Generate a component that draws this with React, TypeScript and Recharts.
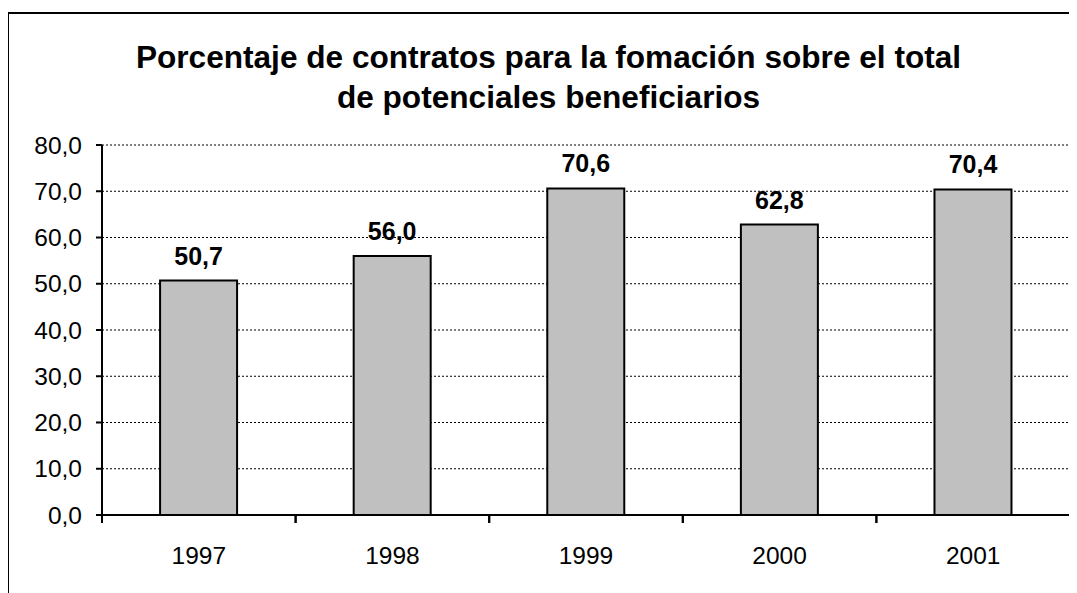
import React from "react";
import { BarChart, Bar, XAxis, YAxis, CartesianGrid, LabelList } from "recharts";

const years = ["1997", "1998", "1999", "2000", "2001"];
const values = [50.7, 56.0, 70.6, 62.8, 70.4];
const yTicks = [0, 10, 20, 30, 40, 50, 60, 70, 80];
const titleLines = [
  "Porcentaje de contratos para la fomación sobre el total",
  "de potenciales beneficiarios",
];

const data = years.map((y, i) => ({ year: y, value: values[i] }));
const FONT = "'Liberation Sans', Arial, sans-serif";
const fmt = (v: number) => v.toFixed(1).replace(".", ",");

const XTick = (props: any) => {
  const { x, y, payload, width, visibleTicksCount } = props;
  const half =
    payload && payload.offset ? payload.offset : width / (visibleTicksCount || 5) / 2;
  return (
    <g>
      <line x1={x - half} x2={x - half} y1={y} y2={y + 8} stroke="#000" strokeWidth={2} />
      <line x1={x + half} x2={x + half} y1={y} y2={y + 8} stroke="#000" strokeWidth={2} />
      <text x={x} y={y} dy={49} textAnchor="middle" fill="#000" fontSize={24.5} fontFamily={FONT}>
        {payload.value}
      </text>
    </g>
  );
};

export default function App() {
  return (
    <div style={{ position: "relative", width: 1069, height: 585, overflow: "hidden", background: "#fff" }}>
      <div
        style={{
          position: "absolute",
          left: -1,
          top: 4,
          width: 1200,
          height: 700,
          border: "2px solid #000",
          boxSizing: "border-box",
        }}
      />
      <div
        style={{
          position: "absolute",
          left: 0,
          top: 29,
          width: 1081,
          textAlign: "center",
          fontFamily: FONT,
          fontWeight: "bold",
          fontSize: 31.6,
          lineHeight: "40px",
          color: "#000",
          whiteSpace: "nowrap",
        }}
      >
        {titleLines.map((t, i) => (
          <div key={i}>{t}</div>
        ))}
      </div>
      <div style={{ position: "absolute", left: 0, top: 0 }}>
        <BarChart
          width={1069}
          height={585}
          data={data}
          margin={{ top: 137, right: 7, bottom: 28, left: 0 }}
          barCategoryGap="30%"
        >
          <CartesianGrid vertical={false} stroke="#000" strokeDasharray="2 2" strokeWidth={1} />
          <XAxis
            dataKey="year"
            height={50}
            axisLine={{ stroke: "#000", strokeWidth: 2 }}
            tickLine={false}
            tickSize={0}
            tickMargin={0}
            tick={<XTick />}
            interval={0}
          />
          <XAxis xAxisId="top" orientation="top" dataKey="year" height={0} tick={false} tickLine={false} axisLine={{ stroke: "#808080", strokeWidth: 2 }} />
          <YAxis
            width={94}
            domain={[0, 80]}
            ticks={yTicks}
            interval={0}
            tickFormatter={fmt}
            axisLine={{ stroke: "#000", strokeWidth: 2 }}
            tickLine={{ stroke: "#000", strokeWidth: 2 }}
            tickSize={6}
            tickMargin={14}
            tick={{ fill: "#000", fontSize: 24.5, fontFamily: FONT }}
          />
          <YAxis yAxisId="right" orientation="right" width={0} domain={[0, 80]} tick={false} tickLine={false} axisLine={{ stroke: "#808080", strokeWidth: 2 }} />
          <Bar dataKey="value" fill="#C0C0C0" stroke="#000" strokeWidth={2} isAnimationActive={false}>
            <LabelList
              dataKey="value"
              position="top"
              offset={16}
              formatter={(v: any) => fmt(Number(v))}
              style={{ fill: "#000", fontSize: 25, fontWeight: "bold", fontFamily: FONT }}
            />
          </Bar>
        </BarChart>
      </div>
    </div>
  );
}
